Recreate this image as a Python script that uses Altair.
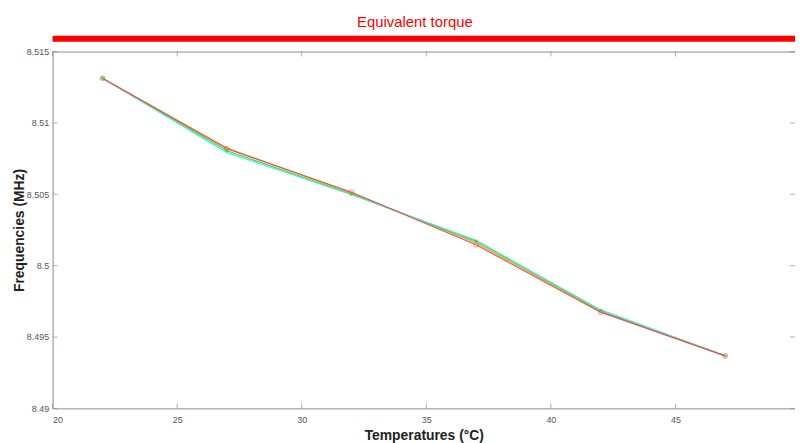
import altair as alt
import pandas as pd

temps = [22, 27, 32, 37, 42, 47]
series_names = ["orange", "green", "cyan", "red"]
orange_vals = [8.51313, 8.50824, 8.50508, 8.50160, 8.49678, 8.49368]
green_vals = [8.51313, 8.50805, 8.50500, 8.50172, 8.49686, 8.49368]
cyan_vals = [8.51313, 8.50792, 8.50497, 8.50178, 8.49690, 8.49368]
red_vals = [8.51313, 8.50819, 8.50514, 8.50146, 8.49674, 8.49368]
colors = ["#e8a020", "#3ad83a", "#48eedc", "#e8505a"]
x_ticks = [20, 25, 30, 35, 40, 45]
y_ticks = [8.49, 8.495, 8.5, 8.505, 8.51, 8.515]
chart_title = "Equivalent torque"

rows = []
for name, vals in zip(series_names, [orange_vals, green_vals, cyan_vals, red_vals]):
    for t, v in zip(temps, vals):
        rows.append({"series": name, "T": t, "F": v})
df = pd.DataFrame(rows)

W, H = 749, 360
xs = alt.Scale(domain=[20, 49.8], nice=False, zero=False)
ys = alt.Scale(domain=[8.49, 8.515], nice=False, zero=False)
col = alt.Scale(domain=series_names, range=colors)

base = alt.Chart(df)
lines = base.mark_line(strokeWidth=1.2).encode(
    x=alt.X("T:Q", scale=xs,
            axis=alt.Axis(values=x_ticks, title="Temperatures (°C)", tickSize=0,
                          labelPadding=7, titleY=31, titleBaseline="alphabetic")),
    y=alt.Y("F:Q", scale=ys,
            axis=alt.Axis(values=y_ticks, format="~g", title="Frequencies (MHz)",
                          tickSize=0, labelPadding=4, titleX=-33, titleY=H / 2,
                          titleBaseline="middle", titleAngle=270)),
    color=alt.Color("series:N", scale=col, legend=None),
    detail="series:N",
    order=alt.Order("T:Q"),
)
red_pts = base.transform_filter(alt.datum.series == "red").mark_point(
    shape="circle", size=22, filled=False, color="#e8505a", strokeWidth=1
).encode(x=alt.X("T:Q", scale=xs), y=alt.Y("F:Q", scale=ys))
green_pts = base.transform_filter(alt.datum.series == "green").mark_point(
    shape="circle", size=8, filled=True, color="#3ad83a", opacity=1
).encode(x=alt.X("T:Q", scale=xs), y=alt.Y("F:Q", scale=ys))

xt = pd.DataFrame({"v": x_ticks})
yt = pd.DataFrame({"v": y_ticks})
tick_color = "#8c8c8c"
xb = alt.Chart(xt).mark_tick(orient="vertical", size=5, color=tick_color, thickness=1).encode(
    x=alt.X("v:Q", scale=xs), y=alt.value(H - 2.5))
xtop = alt.Chart(xt).mark_tick(orient="vertical", size=5, color=tick_color, thickness=1).encode(
    x=alt.X("v:Q", scale=xs), y=alt.value(2.5))
yl = alt.Chart(yt).mark_tick(orient="horizontal", size=5, color=tick_color, thickness=1).encode(
    y=alt.Y("v:Q", scale=ys), x=alt.value(2.5))
yr = alt.Chart(yt).mark_tick(orient="horizontal", size=5, color=tick_color, thickness=1).encode(
    y=alt.Y("v:Q", scale=ys), x=alt.value(W - 2.5))

one = pd.DataFrame({"t": [chart_title]})
bar = alt.Chart(one).mark_rule(color="#ff0000", strokeWidth=6).encode(
    x=alt.value(0), x2=alt.value(W), y=alt.value(-13))
title_txt = alt.Chart(one).mark_text(
    color="#ff0000", fontSize=15, font="Liberation Sans Narrow, Liberation Sans",
    baseline="middle", align="center"
).encode(text="t:N", x=alt.value(W / 2 - 9), y=alt.value(-30))

chart = alt.layer(xb, xtop, yl, yr, lines, red_pts, green_pts, bar, title_txt).properties(
    width=W, height=H,
    autosize=alt.AutoSizeParams(type="none"),
    padding={"left": 45, "top": 42, "right": 0, "bottom": 35},
).configure_view(stroke=tick_color, strokeWidth=1).configure_axis(
    domain=False, grid=False, labelColor="#555555", labelFont="Liberation Sans",
    labelFontSize=9, titleFont="Liberation Sans", titleFontSize=14, titleFontWeight="bold",
    titleColor="#222222"
)

chart.save("out.html", embed_options={"renderer": "svg", "actions": False})
